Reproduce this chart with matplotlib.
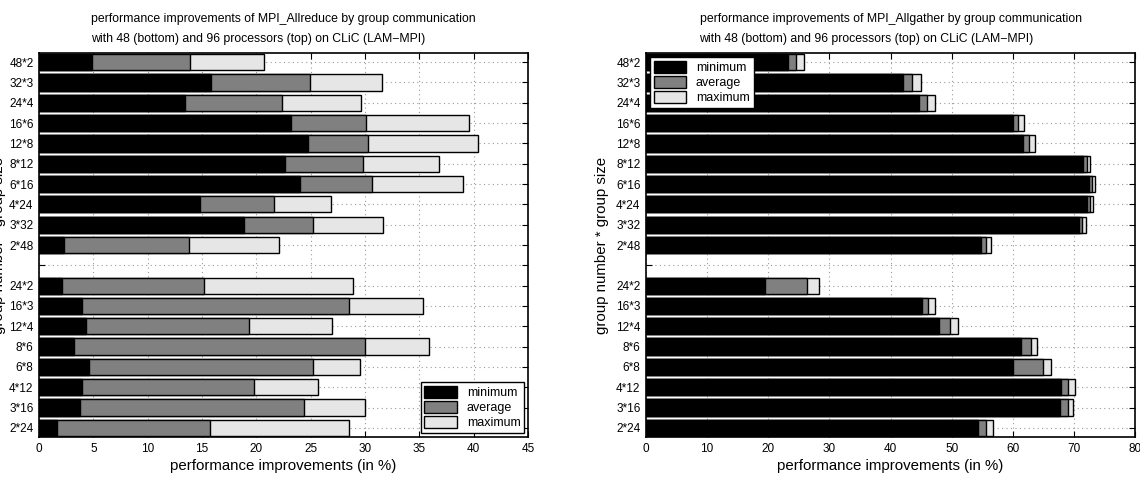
import matplotlib
matplotlib.use("Agg")
import matplotlib.pyplot as plt
import numpy as np

plt.rcParams['font.family'] = ['Liberation Sans', 'DejaVu Sans']

labels_top = ['48*2', '32*3', '24*4', '16*6', '12*8', '8*12', '6*16', '4*24', '3*32', '2*48']
labels_bottom = ['24*2', '16*3', '12*4', '8*6', '6*8', '4*12', '3*16', '2*24']

allreduce_min_96 = [4.9, 15.8, 13.4, 23.2, 24.8, 22.6, 24.0, 14.8, 18.9, 2.3]
allreduce_avg_96 = [13.9, 24.9, 22.4, 30.1, 30.3, 29.8, 30.6, 21.6, 25.2, 13.8]
allreduce_max_96 = [20.7, 31.6, 29.6, 39.6, 40.4, 36.8, 39.0, 26.9, 31.7, 22.1]
allreduce_min_48 = [2.1, 4.0, 4.3, 3.2, 4.6, 4.0, 3.8, 1.7]
allreduce_avg_48 = [15.2, 28.5, 19.3, 30.0, 25.2, 19.8, 24.4, 15.7]
allreduce_max_48 = [28.9, 35.3, 27.0, 35.9, 29.5, 25.7, 30.0, 28.5]

allgather_min_96 = [23.2, 42.1, 44.6, 60.0, 61.6, 71.5, 72.4, 72.1, 70.8, 54.8]
allgather_avg_96 = [24.6, 43.5, 45.9, 60.8, 62.7, 72.1, 72.9, 72.7, 71.3, 55.6]
allgather_max_96 = [25.9, 45.0, 47.2, 61.9, 63.6, 72.7, 73.4, 73.2, 72.0, 56.5]
allgather_min_48 = [19.5, 45.1, 48.0, 61.3, 60.0, 67.9, 67.8, 54.3]
allgather_avg_48 = [26.4, 46.1, 49.8, 63.0, 65.0, 69.1, 69.0, 55.6]
allgather_max_48 = [28.3, 47.2, 51.0, 63.9, 66.3, 70.2, 69.8, 56.8]

titles = [
    "performance improvements of MPI_Allreduce by group communication\nwith 48 (bottom) and 96 processors (top) on CLiC (LAM\u2212MPI)",
    "performance improvements of MPI_Allgather by group communication\nwith 48 (bottom) and 96 processors (top) on CLiC (LAM\u2212MPI)",
]
xlabel = "performance improvements (in %)"
ylabel = "group number * group size"
legend_labels = ['minimum', 'average', 'maximum']
colors = ['#000000', '#808080', '#e6e6e6']

fig = plt.figure(figsize=(11.4, 4.8), dpi=100)
ax1 = fig.add_axes([39/1140, 1-437/480, 489/1140, 384/480])
ax2 = fig.add_axes([646/1140, 1-437/480, 489/1140, 384/480])

pos_top = np.arange(len(labels_top))
pos_bottom = np.arange(len(labels_bottom)) + len(labels_top) + 1
all_pos = np.arange(len(labels_top) + 1 + len(labels_bottom))
all_labels = labels_top + [''] + labels_bottom

def draw(ax, mins96, avgs96, maxs96, mins48, avgs48, maxs48, xmax, xstep, title, leg_loc):
    h = 0.8
    handles = []
    for vals96, vals48, c, lab in [(maxs96, maxs48, colors[2], legend_labels[2]),
                                   (avgs96, avgs48, colors[1], legend_labels[1]),
                                   (mins96, mins48, colors[0], legend_labels[0])]:
        b = ax.barh(pos_top, vals96, height=h, color=c, edgecolor='black', linewidth=1.0, label=lab, zorder=3)
        ax.barh(pos_bottom, vals48, height=h, color=c, edgecolor='black', linewidth=1.0, zorder=3)
        handles.append(b)
    ax.set_xlim(0, xmax)
    ax.set_ylim(all_pos[-1] + 0.45, -0.45)
    ax.set_xticks(np.arange(0, xmax + 0.1, xstep))
    ax.set_yticks(all_pos)
    ax.set_yticklabels(all_labels)
    ax.grid(True, linestyle=(0, (1, 3)), color='#999999', linewidth=0.8)
    ax.set_axisbelow(True)
    ax.tick_params(direction='in', top=True, right=True, labelsize=8.5, length=4, width=0.8, pad=4)
    for s in ax.spines.values():
        s.set_linewidth(1.2)
    ax.set_xlabel(xlabel, fontsize=10.8, labelpad=3)
    ax.set_title(title, fontsize=8.8, ma='left', linespacing=1.85, pad=8)
    hs = [handles[2], handles[1], handles[0]]
    leg = ax.legend(hs, legend_labels, loc=leg_loc, fontsize=9, frameon=True, fancybox=False,
                    edgecolor='black', framealpha=1, borderpad=0.3, labelspacing=0.15,
                    handlelength=2.6, handleheight=1.1, handletextpad=0.8, borderaxespad=0.3)
    leg.get_frame().set_linewidth(1.0)
    leg.set_zorder(10)

draw(ax1, allreduce_min_96, allreduce_avg_96, allreduce_max_96,
     allreduce_min_48, allreduce_avg_48, allreduce_max_48, 45, 5, titles[0], 'lower right')
draw(ax2, allgather_min_96, allgather_avg_96, allgather_max_96,
     allgather_min_48, allgather_avg_48, allgather_max_48, 80, 10, titles[1], 'upper left')

ax1.set_ylabel(ylabel, fontsize=10.8)
ax1.yaxis.set_label_coords(-0.068, 0.5)
ax2.set_ylabel(ylabel, fontsize=10.8)
ax2.yaxis.set_label_coords(-0.076, 0.5)

fig.savefig('out.png', dpi=100)
